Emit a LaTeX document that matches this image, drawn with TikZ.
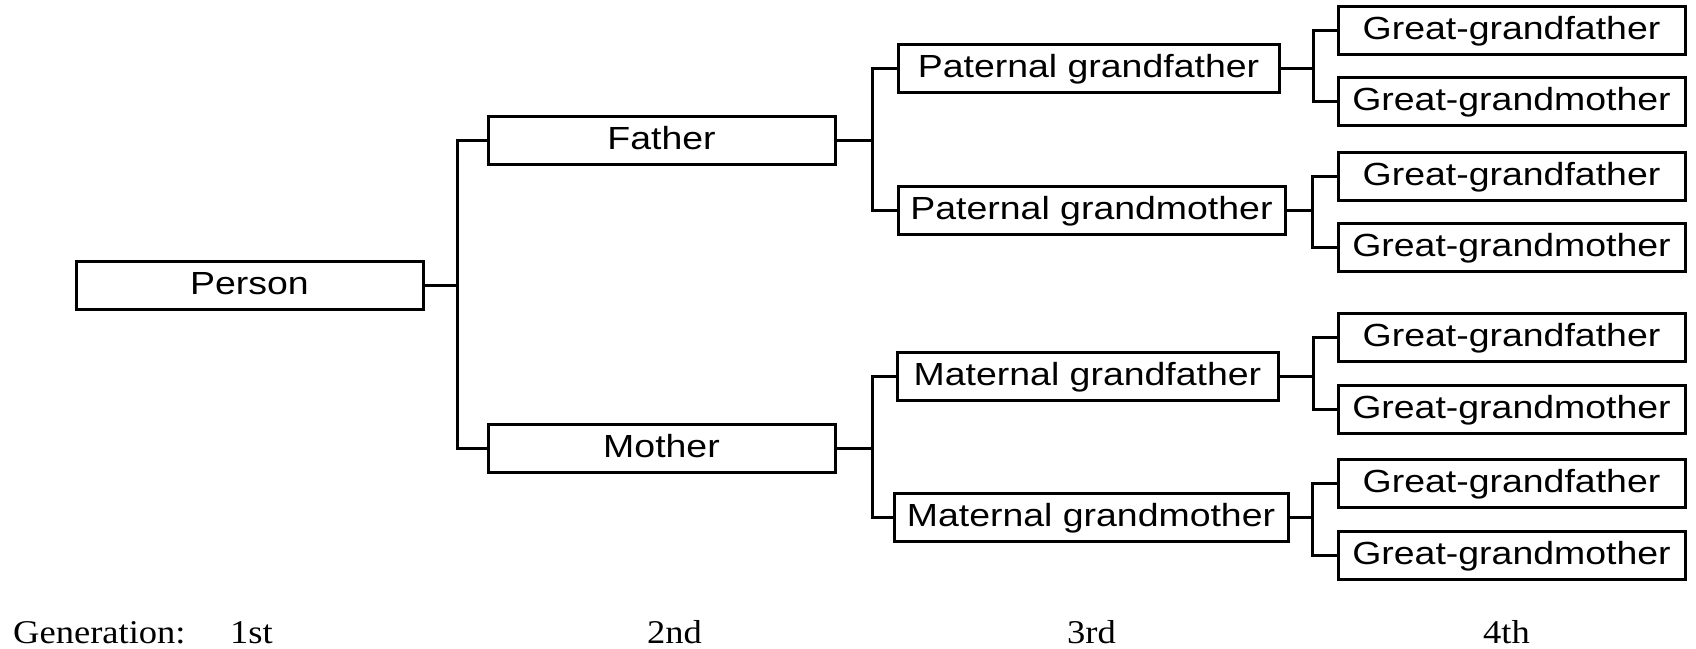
\documentclass[tikz,border=0pt]{standalone}
\usepackage{fontspec}
\setmainfont{Liberation Serif}
\newfontfamily\boxsans{Liberation Sans}
\newcommand\hsans[1]{\scalebox{1.17}[1]{#1}}
\newcommand\hserif[1]{\scalebox{1.1}[1]{#1}}
\begin{document}
\begin{tikzpicture}[x=1pt,y=-1pt,
  pbox/.style={draw, line width=3pt, fill=white, rectangle, inner sep=0pt,
    minimum height=48pt, text height=23pt, text depth=5pt,
    font=\boxsans\fontsize{32}{32}\selectfont},
  link/.style={line width=3pt},
  gen/.style={anchor=base west, inner sep=0pt, font=\fontsize{33.2}{33.2}\selectfont}]
\useasboundingbox (0,0) rectangle (1696,648);
% generation 1
\node[pbox, minimum width=347pt] (person) at (249.5,285) {\hsans{Person}};
% generation 2
\node[pbox, minimum width=347pt] (father) at (661.5,140) {\hsans{Father}};
\node[pbox, minimum width=347pt] (mother) at (661.5,448) {\hsans{Mother}};
% generation 3
\node[pbox, minimum width=381pt] (pgf) at (1088.5,68) {\hsans{Paternal grandfather}};
\node[pbox, minimum width=387pt] (pgm) at (1091.5,210) {\hsans{Paternal grandmother}};
\node[pbox, minimum width=381pt] (mgf) at (1087.5,376) {\hsans{Maternal grandfather}};
\node[pbox, minimum width=394pt] (mgm) at (1091,517.5) {\hsans{Maternal grandmother}};
% generation 4
\node[pbox, minimum width=347pt] (g1) at (1511.5,30) {\hsans{Great-grandfather}};
\node[pbox, minimum width=347pt] (g2) at (1511.5,101.5) {\hsans{Great-grandmother}};
\node[pbox, minimum width=347pt] (g3) at (1511.5,176.5) {\hsans{Great-grandfather}};
\node[pbox, minimum width=347pt] (g4) at (1511.5,247.5) {\hsans{Great-grandmother}};
\node[pbox, minimum width=347pt] (g5) at (1511.5,337.5) {\hsans{Great-grandfather}};
\node[pbox, minimum width=347pt] (g6) at (1511.5,409) {\hsans{Great-grandmother}};
\node[pbox, minimum width=347pt] (g7) at (1511.5,483.5) {\hsans{Great-grandfather}};
\node[pbox, minimum width=347pt] (g8) at (1511.5,555.5) {\hsans{Great-grandmother}};
% spine points
\coordinate (s0) at (457,285);
\coordinate (s1) at (872,140);
\coordinate (s2) at (872,448);
\coordinate (s3) at (1313,68);
\coordinate (s4) at (1312,210);
\coordinate (s5) at (1313,376);
\coordinate (s6) at (1312,517.5);
% connectors
\draw[link] (person.east) -- (s0);
\draw[link] (father.west) -| (s0) |- (mother.west);
\draw[link] (father.east) -- (s1);
\draw[link] (pgf.west) -| (s1) |- (pgm.west);
\draw[link] (mother.east) -- (s2);
\draw[link] (mgf.west) -| (s2) |- (mgm.west);
\draw[link] (pgf.east) -- (s3);
\draw[link] (g1.west) -| (s3) |- (g2.west);
\draw[link] (pgm.east) -- (s4);
\draw[link] (g3.west) -| (s4) |- (g4.west);
\draw[link] (mgf.east) -- (s5);
\draw[link] (g5.west) -| (s5) |- (g6.west);
\draw[link] (mgm.east) -- (s6);
\draw[link] (g7.west) -| (s6) |- (g8.west);
% generation labels
\node[gen] (lgen) at (13,643) {\hserif{Generation:}};
\node[gen] (l1) at (230,643) {\hserif{1st}};
\node[gen] (l2) at (647,643) {\hserif{2nd}};
\node[gen] (l3) at (1067,643) {\hserif{3rd}};
\node[gen] (l4) at (1483,643) {\hserif{4th}};
\end{tikzpicture}
\end{document}
